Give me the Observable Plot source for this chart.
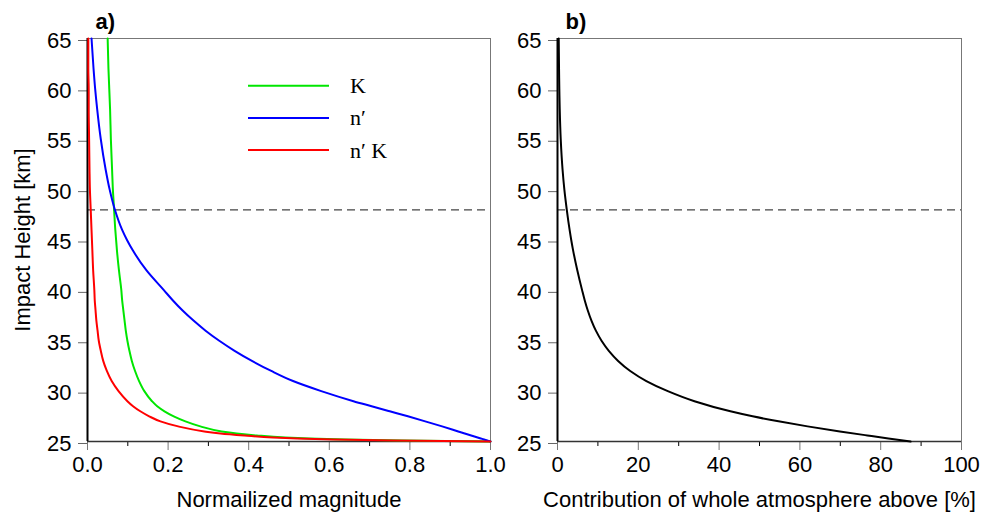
<!DOCTYPE html>
<html><head><meta charset="utf-8">
<script src="https://cdn.jsdelivr.net/npm/d3@7"></script>
<script src="https://cdn.jsdelivr.net/npm/@observablehq/plot@0.6"></script>
<style>
body{margin:0;background:#fff;}
#wrap{position:relative;width:984px;height:515px;font-family:"Liberation Sans",Arial,Helvetica,sans-serif;}
#wrap > svg, #wrap > div{position:absolute;top:0;}
</style></head><body><div id="wrap"></div>
<script>
// ---------- data ----------
const heights   = [65, 62, 60, 58, 55, 52, 50, 48, 46, 45, 44, 42, 40, 39, 38, 37, 36, 35, 34, 33, 32, 31, 30, 29, 28.5, 28, 27.5, 27, 26.5, 26, 25.8, 25.6, 25.4, 25.3, 25.2, 25.1, 25];
const kValues   = [0.050,0.052,0.054,0.056,0.058,0.061,0.063,0.066,0.069,0.071,0.073,0.078,0.084,0.086,0.089,0.092,0.095,0.099,0.104,0.110,0.118,0.128,0.141,0.160,0.173,0.191,0.214,0.243,0.280,0.333,0.370,0.420,0.490,0.550,0.640,0.780,1.0];
const nValues   = [0.010,0.015,0.019,0.024,0.033,0.045,0.055,0.068,0.086,0.098,0.112,0.146,0.190,0.212,0.236,0.263,0.293,0.327,0.365,0.408,0.456,0.510,0.580,0.660,0.705,0.750,0.795,0.838,0.880,0.920,0.936,0.952,0.968,0.976,0.984,0.992,1.0];
const nkValues  = [0.002,0.002,0.003,0.003,0.004,0.005,0.006,0.008,0.010,0.011,0.012,0.014,0.017,0.018,0.020,0.022,0.025,0.028,0.033,0.039,0.048,0.060,0.077,0.099,0.113,0.131,0.153,0.181,0.225,0.290,0.330,0.390,0.460,0.520,0.610,0.760,1.0];
const contribHeights = [65, 62, 60, 58, 55, 52, 50, 48, 46, 45, 44, 42, 40, 39, 38, 37, 36, 35, 34, 33, 32, 31, 30, 29, 28, 27.5, 27, 26.5, 26, 25.6, 25.3, 25];
const contribValues  = [0.3, 0.38, 0.45, 0.55, 0.8, 1.25, 1.7, 2.3, 3.0, 3.4, 3.85, 4.9, 6.1, 6.75, 7.5, 8.4, 9.5, 10.9, 12.7, 15.0, 18.0, 22.0, 27.3, 33.9, 42.8, 48.3, 54.7, 61.9, 69.9, 76.7, 81.9, 87.4];
const seriesNames  = ["K", "n′", "n′ K"];
const seriesColors = ["#00e600", "#0000ff", "#ff0000"];
const yDomain  = [25, 65];
const yTicks   = [25, 30, 35, 40, 45, 50, 55, 60, 65];
const xDomainA = [0, 1];
const xTicksA  = [0, 0.2, 0.4, 0.6, 0.8, 1.0];
const xMinorA  = [0.1, 0.3, 0.5, 0.7, 0.9];
const xDomainB = [0, 100];
const xTicksB  = [0, 20, 40, 60, 80, 100];
const xMinorB  = [10, 30, 50, 70, 90];
const dashedHeight = [48];

// ---------- tables ----------
const valuesBySeries = [kValues, nValues, nkValues];
const rowsA = valuesBySeries.flatMap((vals, s) => heights.map((h, i) => ({series: seriesNames[s], h, v: vals[i]})));
const rowsB = contribHeights.map((h, i) => ({h, v: contribValues[i]}));
const colorOf = Object.fromEntries(seriesNames.map((n, i) => [n, seriesColors[i]]));

const FS = 22;
const common = {
  height: 515, marginTop: 38, marginBottom: 74,
  style: {fontFamily: "Liberation Sans, Arial, Helvetica, sans-serif", fontSize: FS + "px", background: "transparent", overflow: "visible", color: "#000"},
  y: {domain: yDomain}
};

function panelMarks(xDomain, xTicks, xMinor, fmt, letter) {
  return [
    Plot.frame({stroke: "#777", strokeWidth: 1}),
    Plot.ruleY(dashedHeight, {stroke: "#444", strokeWidth: 1.2, strokeDasharray: "8,5"}),
    Plot.axisY({ticks: yTicks, tickSize: 9, tickPadding: 7, stroke: "#666", label: null, fontSize: FS, dy: 2}),
    Plot.axisX({ticks: xTicks, tickSize: 9, tickPadding: 6, tickFormat: fmt, stroke: "#777", label: null, fontSize: FS}),
    Plot.axisX({ticks: xMinor, tickSize: 5, text: null, label: null, stroke: "#000"}),
    Plot.ruleY([yDomain[0]], {stroke: "#333", strokeWidth: 1.5}),
    Plot.ruleX([xDomain[0]], {stroke: "#000", strokeWidth: 2}),
    Plot.text([letter], {frameAnchor: "top-left", dx: 8, dy: -16.5, fontWeight: "bold", textAnchor: "start", lineAnchor: "middle", fontSize: FS})
  ];
}

const plotA = Plot.plot({
  ...common,
  width: 500, marginLeft: 87, marginRight: 10,
  x: {domain: xDomainA},
  marks: [
    ...panelMarks(xDomainA, xTicksA, xMinorA, d3.format(".1f"), "a)"),
    Plot.line(rowsA, {x: "v", y: "h", z: "series", stroke: d => colorOf[d.series], strokeWidth: 2, curve: "monotone-y"}),
    Plot.text(["Impact Height [km]"], {frameAnchor: "left", rotate: -90, dx: -65, textAnchor: "middle", lineAnchor: "middle", fontSize: FS}),
    Plot.text(["Normailized magnitude"], {frameAnchor: "bottom", dy: 58, textAnchor: "middle", lineAnchor: "middle", fontSize: FS})
  ]
});

const plotB = Plot.plot({
  ...common,
  width: 484, marginLeft: 57, marginRight: 23,
  x: {domain: xDomainB},
  marks: [
    ...panelMarks(xDomainB, xTicksB, xMinorB, d3.format("d"), "b)"),
    Plot.line(rowsB, {x: "v", y: "h", stroke: "#000", strokeWidth: 2, curve: "monotone-y"}),
    Plot.text(["Contribution of whole atmosphere above [%]"], {frameAnchor: "bottom", dy: 58, textAnchor: "middle", lineAnchor: "middle", fontSize: FS})
  ]
});

const wrap = document.getElementById("wrap");
plotA.style.left = "0px";
plotB.style.left = "500px";
wrap.appendChild(plotA);
wrap.appendChild(plotB);

// ---------- legend (inside panel a) ----------
const leg = d3.select(wrap).append("svg")
  .attr("width", 984).attr("height", 515)
  .style("left", "0px").style("pointer-events", "none");
const g = leg.selectAll("g").data(seriesNames).join("g")
  .attr("transform", (d, i) => `translate(0,${85.7 + i * 32.2})`);
g.append("line").attr("x1", 248).attr("x2", 329).attr("y1", 0).attr("y2", 0)
  .attr("stroke", (d, i) => seriesColors[i]).attr("stroke-width", 2);
g.append("text").attr("x", 350).attr("y", 7.5).text(d => d)
  .attr("font-family", "Liberation Serif, Times New Roman, serif").attr("font-size", 22).attr("fill", "#000");
</script></body></html>
